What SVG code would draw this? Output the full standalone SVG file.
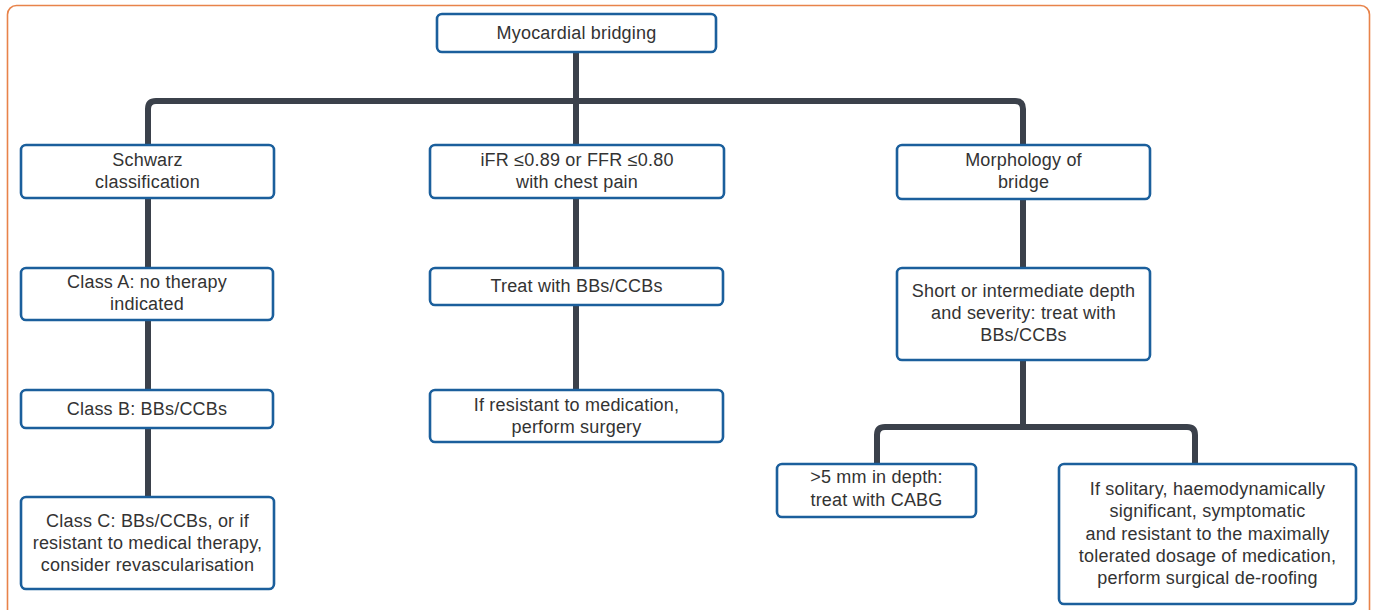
<svg xmlns="http://www.w3.org/2000/svg" width="1375" height="610" viewBox="0 0 1375 610">
<style>
.frame{fill:#ffffff;stroke:#e8834a;stroke-width:1.6}
.box{fill:#ffffff;stroke:#1b5f9c;stroke-width:2.6}
.conn{fill:none;stroke:#3b414b;stroke-width:6;stroke-linejoin:round}
text{font-family:"Liberation Sans",Arial,sans-serif;font-size:18px;letter-spacing:0.2px;fill:#333333;text-anchor:middle}
</style>
<rect class="frame" x="7.5" y="5.5" width="1362" height="620" rx="9"/>
<g id="connectors">
<path class="conn" d="M576 52 V145"/>
<path class="conn" d="M148 145 V109 Q148 101 156 101 H1015 Q1023 101 1023 109 V145"/>
<path class="conn" d="M148 198 V497"/>
<path class="conn" d="M576 198 V390"/>
<path class="conn" d="M1023 199 V268"/>
<path class="conn" d="M1023 360 V427"/>
<path class="conn" d="M877 464 V435 Q877 427 885 427 H1187 Q1195 427 1195 435 V464"/>
</g>
<g id="n-root"><rect class="box" x="437" y="14" width="279" height="38" rx="5"/><text x="576.5" y="39">Myocardial bridging</text></g>
<g id="n-schwarz"><rect class="box" x="21" y="145" width="253" height="53" rx="5"/><text x="147.5" y="166">Schwarz</text><text x="147.5" y="188">classification</text></g>
<g id="n-ifr"><rect class="box" x="430" y="145" width="294" height="53" rx="5"/><text x="577" y="166">iFR ≤0.89 or FFR ≤0.80</text><text x="577" y="188">with chest pain</text></g>
<g id="n-morph"><rect class="box" x="897" y="145" width="253" height="54" rx="5"/><text x="1023.5" y="166">Morphology of</text><text x="1023.5" y="188">bridge</text></g>
<g id="n-classa"><rect class="box" x="21" y="268" width="252" height="52" rx="5"/><text x="147" y="288">Class A: no therapy</text><text x="147" y="310">indicated</text></g>
<g id="n-classb"><rect class="box" x="21" y="390" width="252" height="38" rx="5"/><text x="147" y="415">Class B: BBs/CCBs</text></g>
<g id="n-classc"><rect class="box" x="21" y="497" width="253" height="92" rx="5"/><text x="147.5" y="527">Class C: BBs/CCBs, or if</text><text x="147.5" y="549">resistant to medical therapy,</text><text x="147.5" y="571">consider revascularisation</text></g>
<g id="n-treat"><rect class="box" x="430" y="268" width="293" height="37" rx="5"/><text x="576.5" y="292">Treat with BBs/CCBs</text></g>
<g id="n-resistant"><rect class="box" x="430" y="390" width="293" height="52" rx="5"/><text x="576.5" y="411">If resistant to medication,</text><text x="576.5" y="433">perform surgery</text></g>
<g id="n-short"><rect class="box" x="897" y="268" width="253" height="92" rx="5"/><text x="1023.5" y="297">Short or intermediate depth</text><text x="1023.5" y="319">and severity: treat with</text><text x="1023.5" y="341">BBs/CCBs</text></g>
<g id="n-cabg"><rect class="box" x="777" y="464" width="199" height="53" rx="5"/><text x="876.5" y="483">&gt;5 mm in depth:</text><text x="876.5" y="506">treat with CABG</text></g>
<g id="n-deroof"><rect class="box" x="1059" y="464" width="297" height="140" rx="5"/><text x="1207.5" y="495">If solitary, haemodynamically</text><text x="1207.5" y="517">significant, symptomatic</text><text x="1207.5" y="540">and resistant to the maximally</text><text x="1207.5" y="562">tolerated dosage of medication,</text><text x="1207.5" y="584">perform surgical de-roofing</text></g>
</svg>
